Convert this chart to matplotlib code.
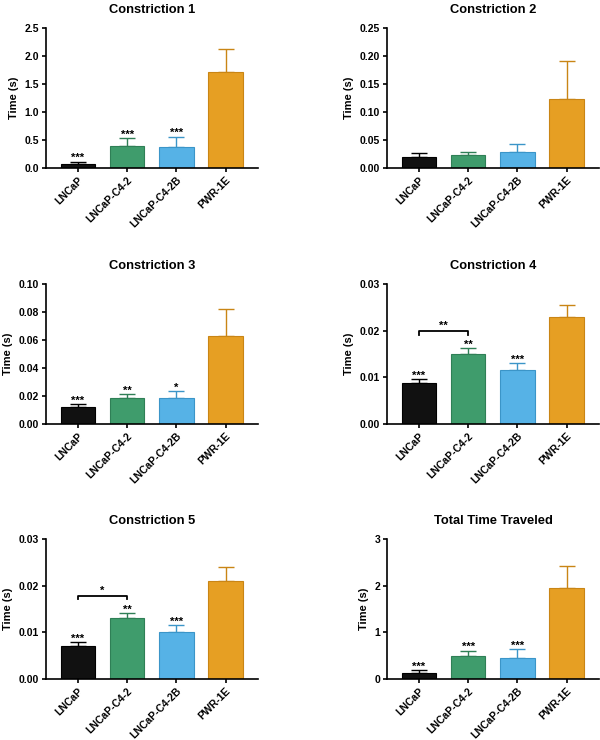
import matplotlib
matplotlib.use("Agg")
import matplotlib.pyplot as plt

plt.rcParams['font.family'] = ['Liberation Sans', 'DejaVu Sans']
plt.rcParams['font.weight'] = 'bold'

cells = ["LNCaP", "LNCaP-C4-2", "LNCaP-C4-2B", "PWR-1E"]
colors = ["#111111", "#3f9c6c", "#56b2e6", "#e69f23"]
edges = ["#000000", "#2f7f56", "#3b95c8", "#c98515"]

titles = ["Constriction 1", "Constriction 2", "Constriction 3",
          "Constriction 4", "Constriction 5", "Total Time Traveled"]

c1_mean = [0.078, 0.40, 0.38, 1.72]
c1_err = [0.035, 0.13, 0.175, 0.40]
c2_mean = [0.020, 0.024, 0.028, 0.124]
c2_err = [0.006, 0.005, 0.014, 0.067]
c3_mean = [0.0121, 0.0188, 0.0188, 0.0626]
c3_err = [0.0022, 0.0024, 0.0045, 0.0195]
c4_mean = [0.0088, 0.0151, 0.0116, 0.0230]
c4_err = [0.0008, 0.0011, 0.0014, 0.0025]
c5_mean = [0.0071, 0.0130, 0.0101, 0.0211]
c5_err = [0.0008, 0.0011, 0.0014, 0.0030]
tot_mean = [0.13, 0.50, 0.46, 1.96]
tot_err = [0.06, 0.11, 0.18, 0.46]

means = [c1_mean, c2_mean, c3_mean, c4_mean, c5_mean, tot_mean]
errs = [c1_err, c2_err, c3_err, c4_err, c5_err, tot_err]
ymax = [2.5, 0.25, 0.10, 0.03, 0.03, 3]
yticks = [[0, 0.5, 1.0, 1.5, 2.0, 2.5],
          [0, 0.05, 0.10, 0.15, 0.20, 0.25],
          [0, 0.02, 0.04, 0.06, 0.08, 0.10],
          [0, 0.01, 0.02, 0.03],
          [0, 0.01, 0.02, 0.03],
          [0, 1, 2, 3]]
yfmt = ["%.1f", "%.2f", "%.2f", "%.2f", "%.2f", "%d"]
stars = [["***", "***", "***", ""],
         ["", "", "", ""],
         ["***", "**", "*", ""],
         ["***", "**", "***", ""],
         ["***", "**", "***", ""],
         ["***", "***", "***", ""]]
# bracket between LNCaP and LNCaP-C4-2: (height, label)
brackets = [None, None, None, (0.0199, "**"), (0.0178, "*"), None]

W, H = 600, 740
lefts = [46, 387]
bottoms = [168, 424, 679]
aw, ah = 212, 140

fig = plt.figure(figsize=(6, 7.4), dpi=100)

for i in range(6):
    r, c = i // 2, i % 2
    ax = fig.add_axes([lefts[c] / W, 1 - bottoms[r] / H, aw / W, ah / H])
    x = range(len(cells))
    m, e = means[i], errs[i]
    ax.bar(x, m, width=0.7, color=colors, edgecolor=edges, linewidth=0.8, zorder=2)
    for j in x:
        ax.errorbar(j, m[j], yerr=[[0], [e[j]]], fmt='none', ecolor=edges[j],
                    elinewidth=1.0, capsize=6, capthick=1.0, zorder=1)
        if stars[i][j]:
            ax.text(j, m[j] + e[j] - ymax[i] * 0.01, stars[i][j], ha='center',
                    va='bottom', fontsize=8, fontweight='bold')
    if brackets[i]:
        h, lab = brackets[i]
        d = ymax[i] * 0.025
        ax.plot([0, 0, 1, 1], [h - d, h, h, h - d], color='black', lw=1.3)
        ax.text(0.5, h, lab, ha='center', va='bottom', fontsize=8, fontweight='bold')
    ax.set_xlim(-0.65, 3.66)
    ax.set_ylim(0, ymax[i])
    ax.set_yticks(yticks[i])
    ax.set_yticklabels([yfmt[i] % v for v in yticks[i]], fontsize=7.5, fontweight='bold')
    ax.set_xticks(list(x))
    ax.set_xticklabels(cells, rotation=45, ha='right', rotation_mode='anchor',
                       fontsize=7.5, fontweight='bold')
    ax.set_ylabel("Time (s)", fontsize=8, fontweight='bold')
    ax.set_title(titles[i], fontsize=9.3, fontweight='bold', pad=11)
    for s in ['top', 'right']:
        ax.spines[s].set_visible(False)
    for s in ['left', 'bottom']:
        ax.spines[s].set_linewidth(1.2)
    ax.tick_params(width=1.2, length=3, pad=2)

fig.savefig("out.png", dpi=100)
